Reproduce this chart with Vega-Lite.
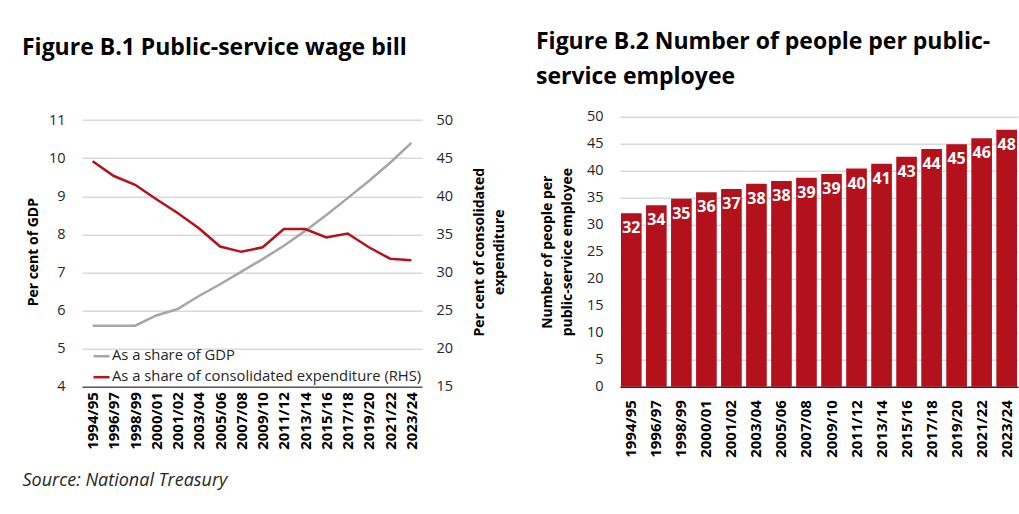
{
  "$schema": "https://vega.github.io/schema/vega-lite/v6.json",
  "autosize": "none",
  "padding": {"left": 82, "top": 116.7, "right": 937, "bottom": 397},
  "background": "white",
  "bounds": "flush",
  "spacing": 198,
  "config": {"font": "Open Sans", "view": {"stroke": null}},
  "datasets": {
    "wage": [
      {"year": "1994/95", "series": "As a share of GDP", "value": 5.6},
      {"year": "1996/97", "series": "As a share of GDP", "value": 5.6},
      {"year": "1998/99", "series": "As a share of GDP", "value": 5.6},
      {"year": "2000/01", "series": "As a share of GDP", "value": 5.87},
      {"year": "2001/02", "series": "As a share of GDP", "value": 6.04},
      {"year": "2003/04", "series": "As a share of GDP", "value": 6.38},
      {"year": "2005/06", "series": "As a share of GDP", "value": 6.69},
      {"year": "2007/08", "series": "As a share of GDP", "value": 7.02},
      {"year": "2009/10", "series": "As a share of GDP", "value": 7.35},
      {"year": "2011/12", "series": "As a share of GDP", "value": 7.7},
      {"year": "2013/14", "series": "As a share of GDP", "value": 8.09},
      {"year": "2015/16", "series": "As a share of GDP", "value": 8.51},
      {"year": "2017/18", "series": "As a share of GDP", "value": 8.95},
      {"year": "2019/20", "series": "As a share of GDP", "value": 9.4},
      {"year": "2021/22", "series": "As a share of GDP", "value": 9.88},
      {"year": "2023/24", "series": "As a share of GDP", "value": 10.4},
      {"year": "1994/95", "series": "As a share of consolidated expenditure (RHS)", "value": 44.6},
      {"year": "1996/97", "series": "As a share of consolidated expenditure (RHS)", "value": 42.65},
      {"year": "1998/99", "series": "As a share of consolidated expenditure (RHS)", "value": 41.5},
      {"year": "2000/01", "series": "As a share of consolidated expenditure (RHS)", "value": 39.6},
      {"year": "2001/02", "series": "As a share of consolidated expenditure (RHS)", "value": 37.8},
      {"year": "2003/04", "series": "As a share of consolidated expenditure (RHS)", "value": 35.8},
      {"year": "2005/06", "series": "As a share of consolidated expenditure (RHS)", "value": 33.4},
      {"year": "2007/08", "series": "As a share of consolidated expenditure (RHS)", "value": 32.7},
      {"year": "2009/10", "series": "As a share of consolidated expenditure (RHS)", "value": 33.3},
      {"year": "2011/12", "series": "As a share of consolidated expenditure (RHS)", "value": 35.7},
      {"year": "2013/14", "series": "As a share of consolidated expenditure (RHS)", "value": 35.7},
      {"year": "2015/16", "series": "As a share of consolidated expenditure (RHS)", "value": 34.6},
      {"year": "2017/18", "series": "As a share of consolidated expenditure (RHS)", "value": 35.1},
      {"year": "2019/20", "series": "As a share of consolidated expenditure (RHS)", "value": 33.3},
      {"year": "2021/22", "series": "As a share of consolidated expenditure (RHS)", "value": 31.8},
      {"year": "2023/24", "series": "As a share of consolidated expenditure (RHS)", "value": 31.6}
    ],
    "people": [
      {"year": "1994/95", "value": 32.1},
      {"year": "1996/97", "value": 33.6},
      {"year": "1998/99", "value": 34.8},
      {"year": "2000/01", "value": 36.0},
      {"year": "2001/02", "value": 36.6},
      {"year": "2003/04", "value": 37.6},
      {"year": "2005/06", "value": 38.1},
      {"year": "2007/08", "value": 38.7},
      {"year": "2009/10", "value": 39.4},
      {"year": "2011/12", "value": 40.4},
      {"year": "2013/14", "value": 41.3},
      {"year": "2015/16", "value": 42.6},
      {"year": "2017/18", "value": 44.0},
      {"year": "2019/20", "value": 44.9},
      {"year": "2021/22", "value": 46.0},
      {"year": "2023/24", "value": 47.6}
    ]
  },
  "hconcat": [
    {
      "width": 340,
      "height": 270,
      "title": {"text": "Figure B.1 Public-service wage bill", "anchor": "start", "frame": "group", "dx": -60, "offset": 52, "fontSize": 23, "fontWeight": "bold", "color": "#000000", "font": "Open Sans"},
      "data": {"name": "wage"},
      "encoding": {
        "x": {
          "field": "year", "type": "ordinal", "sort": null,
          "scale": {"type": "point", "padding": 0.5},
          "axis": {
            "labelAngle": 270, "labelFontSize": 15, "labelFontWeight": "bold", "labelColor": "#000000", "labelPadding": 5,
            "ticks": false, "grid": false, "domainColor": "#595959", "domainWidth": 1.5,
            "title": "Source: National Treasury", "titleFontStyle": "italic", "titleFontWeight": "normal", "titleFontSize": 18,
            "titleColor": "#262626", "titleX": -60, "titleY": 99, "titleAlign": "left", "titleBaseline": "alphabetic"
          }
        }
      },
      "layer": [
        {
          "transform": [{"filter": "datum.series === 'As a share of GDP'"}],
          "mark": {"type": "line", "strokeWidth": 2.5},
          "encoding": {
            "y": {
              "field": "value", "type": "quantitative",
              "scale": {"domain": [4, 11.0875], "nice": false, "zero": false},
              "axis": {
                "orient": "left", "values": [4, 5, 6, 7, 8, 9, 10, 11], "domain": false, "ticks": false,
                "grid": true, "gridColor": "#D9D9D9", "gridWidth": 1.5,
                "labelFontSize": 14.5, "labelColor": "#262626", "labelPadding": 17,
                "title": "Per cent of GDP", "titleFontSize": 14, "titleFontWeight": "bold", "titleColor": "#000000", "titlePadding": 8
              }
            },
            "color": {
              "field": "series", "type": "nominal",
              "scale": {"domain": ["As a share of GDP", "As a share of consolidated expenditure (RHS)"], "range": ["#A6A6A6", "#B5121B"]},
              "legend": {
                "title": null, "orient": "none", "legendX": 10, "legendY": 230, "symbolType": "stroke", "symbolSize": 256,
                "symbolStrokeWidth": 2.5, "labelFontSize": 14.8, "labelColor": "#262626", "labelOffset": 1, "labelLimit": 500,
                "rowPadding": 4, "padding": 0
              }
            }
          }
        },
        {
          "transform": [{"filter": "datum.series === 'As a share of consolidated expenditure (RHS)'"}],
          "mark": {"type": "line", "strokeWidth": 2.5},
          "encoding": {
            "y": {
              "field": "value", "type": "quantitative",
              "scale": {"domain": [15, 50.4375], "nice": false, "zero": false},
              "axis": {
                "orient": "right", "values": [15, 20, 25, 30, 35, 40, 45, 50], "domain": false, "ticks": false, "grid": false,
                "labelFontSize": 14.5, "labelColor": "#262626", "labelPadding": 14,
                "title": ["Per cent of consolidated", "expenditure"], "titleAngle": 270, "titleFontSize": 14, "titleFontWeight": "bold",
                "titleColor": "#000000", "titlePadding": 14, "titleLineHeight": 20
              }
            },
            "color": {"field": "series", "type": "nominal"}
          }
        }
      ],
      "resolve": {"scale": {"y": "independent"}}
    },
    {
      "width": 398,
      "height": 270,
      "title": {"text": ["Figure B.2 Number of people per public-", "service employee"], "anchor": "start", "frame": "group", "dx": -84, "offset": 20, "fontSize": 23, "lineHeight": 35, "fontWeight": "bold", "color": "#000000", "font": "Open Sans"},
      "data": {"name": "people"},
      "encoding": {
        "x": {
          "field": "year", "type": "ordinal", "sort": null,
          "scale": {"paddingInner": 0.175, "paddingOuter": 0.04},
          "axis": {
            "labelAngle": 270, "labelFontSize": 15, "labelFontWeight": "bold", "labelColor": "#000000", "labelPadding": 13,
            "ticks": false, "grid": false, "domainColor": "#262626", "domainWidth": 1.5, "title": null
          }
        },
        "y": {
          "field": "value", "type": "quantitative",
          "scale": {"domain": [0, 50], "nice": false},
          "axis": {
            "values": [0, 5, 10, 15, 20, 25, 30, 35, 40, 45, 50], "domain": false, "ticks": false,
            "grid": true, "gridColor": "#D9D9D9", "gridWidth": 1.5,
            "labelFontSize": 14.5, "labelColor": "#262626", "labelPadding": 17,
            "title": ["Number of people per", "public-service employee"], "titleFontSize": 14, "titleFontWeight": "bold",
            "titleColor": "#000000", "titlePadding": 12, "titleLineHeight": 20
          }
        }
      },
      "layer": [
        {"mark": {"type": "bar", "color": "#B3121D"}},
        {
          "mark": {"type": "text", "baseline": "top", "dy": 7, "color": "white", "fontWeight": "bold", "fontSize": 16},
          "encoding": {"text": {"field": "value", "type": "quantitative", "format": ".0f"}}
        }
      ]
    }
  ]
}
